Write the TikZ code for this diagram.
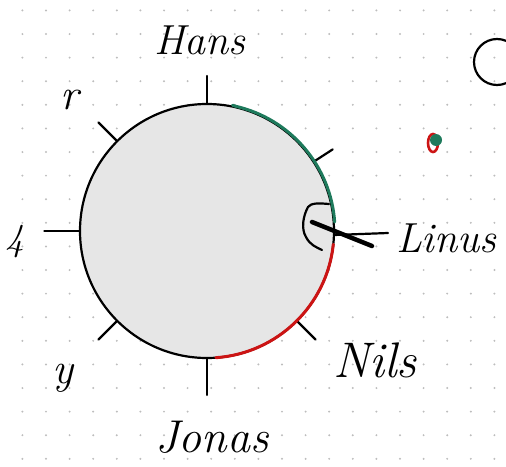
\documentclass[tikz,border=0pt]{standalone}
\usepackage{tikz}
\usetikzlibrary{calc}
\definecolor{penGreen}{HTML}{1E7A5C}
\definecolor{penRed}{HTML}{CC1414}
\definecolor{fillGray}{HTML}{E6E6E6}
\definecolor{dotGray}{HTML}{BDBDBD}
\tikzset{
  pen/.style={line width=2.2pt, line cap=round, line join=round, black},
  tickline/.style={pen},
  hand/.style={font=\itshape\fontsize{#1}{#1}\selectfont, inner sep=0pt},
}
\begin{document}
\begin{tikzpicture}[x=1pt,y=-1pt]
\useasboundingbox (0,0) rectangle (506,466);
\clip (0,0) rectangle (506,466);
% dot grid
\foreach \i in {0,...,21} {
  \foreach \j in {0,...,20} {
    \fill[dotGray] (22.4+23.6*\i, 10.4+23.6*\j) circle (1.1pt);
  }
}
% main circle
\coordinate (c) at (207,231);
\node[circle, draw=black, fill=fillGray, line width=2.2pt, minimum size=254pt, inner sep=0pt] (wheel) at (c) {};
% ticks
\foreach \a/\f in {90/1.21,135/1.2,180/1.27,225/1.2,270/1.28,315/1.2,33/1.17} {
  \draw[tickline] (wheel.\a) -- ($(c)!\f!(wheel.\a)$);
}
% green arc
\draw[penGreen, line width=3pt, line cap=round] ([shift={(-77:127)}]c) ++(-3,-2) -- ([shift={(-77:128)}]c)
  arc[start angle=-77, end angle=-4, radius=128];
% red arc
\draw[penRed, line width=3pt, line cap=round] ([shift={(6:127)}]c)
  arc[start angle=6, end angle=86, radius=127];
% Linus mark
\draw[pen] (329,204) .. controls (318,203) and (311,203) .. (308,207)
  .. controls (303,216) and (301,229) .. (306,237)
  .. controls (310,245) and (316,247) .. (322,250);
\draw[black, line width=4.5pt, line cap=round] (312,222) -- (372,246);
\draw[pen] (334,235) -- (388,233);
% labels
\node[hand=42] (hans) at (200,40) {Hans};
\node[hand=44] (r) at (70,100) {r};
\node[hand=38] (one) at (15,242) {4};
\node[hand=44] (y) at (63,378) {y};
\node[hand=46] (jonas) at (212,437) {Jonas};
\node[hand=50] (nils) at (375,360) {Nils};
\node[hand=42, anchor=west] (linus) at (396,238) {Linus};
% top-right circle
\draw[pen] (497,62) circle (23);
% red/green dot
\draw[penRed, line width=2.6pt] (433,143) ellipse (5 and 9);
\fill[penGreen] (436,140) circle (6);
\end{tikzpicture}
\end{document}
